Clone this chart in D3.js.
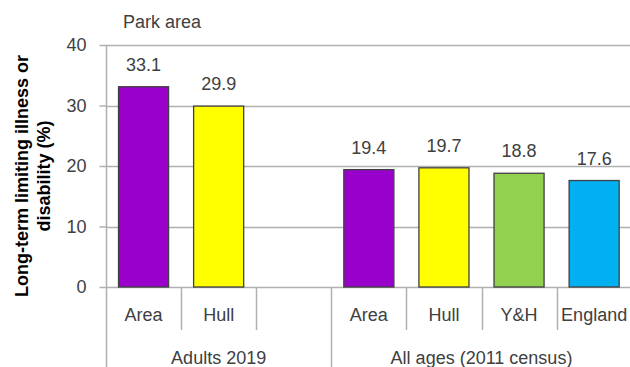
<!DOCTYPE html>
<html>
<head>
<meta charset="utf-8">
<script src="https://cdn.jsdelivr.net/npm/d3@7"></script>
<style>
  html, body { margin: 0; padding: 0; background: #fff; }
  svg { display: block; font-family: "Liberation Sans", Arial, sans-serif; }
</style>
</head>
<body>
<script>
// chart values
const slots = ["s0", "s1", "s2", "s3", "s4", "s5", "s6"];
const categories = ["Area", "Hull", "", "Area", "Hull", "Y&H", "England"];
const values = [33.1, 29.9, null, 19.4, 19.7, 18.8, 17.6];
const barColors = ["#9900cc", "#ffff00", null, "#9900cc", "#ffff00", "#92d050", "#00b0f0"];
const groupLabels = ["Adults 2019", "All ages (2011 census)"];
const groupSpans = [[0, 3], [3, 7]];
const yTicks = [0, 10, 20, 30, 40];

const W = 630, H = 367;
const plotLeft = 106, plotTop = 45, plotBottom = 287;
const plotRight = plotLeft + 7 * 75.1;

const svg = d3.select('body').append('svg')
  .attr('width', W)
  .attr('height', H);

const x = d3.scaleBand().domain(slots).range([plotLeft, plotRight]).padding(0);
const y = d3.scaleLinear().domain([0, 40]).range([plotBottom, plotTop]);

// gridlines
svg.append('g')
  .selectAll('line')
  .data(yTicks)
  .enter()
  .append('line')
  .attr('x1', plotLeft)
  .attr('x2', plotRight)
  .attr('y1', d => Math.round(y(d)) + 0.5)
  .attr('y2', d => Math.round(y(d)) + 0.5)
  .attr('stroke', '#b0b0b0')
  .attr('stroke-width', 1.5);

// y axis
const yAxis = d3.axisLeft(y).tickValues(yTicks).tickSize(7).tickPadding(13);
const yg = svg.append('g')
  .attr('transform', `translate(${plotLeft + 0.5},0)`)
  .call(yAxis);
yg.select('.domain').remove();
yg.selectAll('.tick line').attr('stroke', '#b0b0b0').attr('stroke-width', 1.5);
yg.selectAll('.tick text')
  .attr('fill', '#404040')
  .style('font-size', '18px')
  .style('font-family', '"Liberation Sans", Arial, sans-serif');

// left axis line runs down through the category labels
svg.append('line')
  .attr('x1', plotLeft + 0.5).attr('x2', plotLeft + 0.5)
  .attr('y1', plotTop).attr('y2', H)
  .attr('stroke', '#b0b0b0').attr('stroke-width', 1.5);

// bars
const barW = x.bandwidth() * 2 / 3;
const barData = slots.map((s, i) => ({ slot: s, v: values[i], c: barColors[i] }))
  .filter(d => d.v != null);

svg.append('g')
  .selectAll('rect')
  .data(barData)
  .enter()
  .append('rect')
  .attr('x', d => x(d.slot) + (x.bandwidth() - barW) / 2)
  .attr('y', d => y(d.v))
  .attr('width', barW)
  .attr('height', d => y(0) - y(d.v))
  .attr('fill', d => d.c)
  .attr('stroke', '#404040')
  .attr('stroke-width', 1.3);

// value labels
svg.append('g')
  .selectAll('text')
  .data(barData)
  .enter()
  .append('text')
  .attr('x', d => x(d.slot) + x.bandwidth() / 2)
  .attr('y', d => y(d.v) - 16)
  .attr('text-anchor', 'middle')
  .attr('fill', '#404040')
  .style('font-size', '18px')
  .text(d => d.v.toFixed(1));

// category separators
const sepSlots = d3.range(1, 7).filter(i => !groupSpans.some(g => g[0] === i));
svg.append('g')
  .selectAll('line')
  .data(sepSlots)
  .enter()
  .append('line')
  .attr('x1', i => Math.round(x(slots[i])) + 0.5)
  .attr('x2', i => Math.round(x(slots[i])) + 0.5)
  .attr('y1', plotBottom)
  .attr('y2', 330)
  .attr('stroke', '#b0b0b0')
  .attr('stroke-width', 1.5);

// group separators (long)
svg.append('g')
  .selectAll('line')
  .data(groupSpans.slice(1))
  .enter()
  .append('line')
  .attr('x1', g => Math.round(x(slots[g[0]])) + 0.5)
  .attr('x2', g => Math.round(x(slots[g[0]])) + 0.5)
  .attr('y1', plotBottom)
  .attr('y2', H)
  .attr('stroke', '#b0b0b0')
  .attr('stroke-width', 1.5);

// category labels
svg.append('g')
  .selectAll('text')
  .data(categories)
  .enter()
  .append('text')
  .attr('x', (d, i) => x(slots[i]) + x.bandwidth() / 2)
  .attr('y', 321)
  .attr('text-anchor', 'middle')
  .attr('fill', '#404040')
  .style('font-size', '18px')
  .text(d => d);

// group labels
svg.append('g')
  .selectAll('text')
  .data(groupLabels)
  .enter()
  .append('text')
  .attr('x', (d, i) => {
    const g = groupSpans[i];
    return (x(slots[g[0]]) + x(slots[g[1] - 1]) + x.bandwidth()) / 2;
  })
  .attr('y', 364)
  .attr('text-anchor', 'middle')
  .attr('fill', '#404040')
  .style('font-size', '18px')
  .text(d => d);

// chart title
svg.append('text')
  .attr('x', 123)
  .attr('y', 28)
  .attr('fill', '#404040')
  .style('font-size', '18px')
  .text('Park area');

// y axis title
const yt = svg.append('text')
  .attr('transform', 'translate(0,176) rotate(-90)')
  .attr('text-anchor', 'middle')
  .attr('fill', '#000')
  .style('font-size', '18px')
  .style('font-weight', 'bold');
yt.append('tspan').attr('x', 0).attr('y', 28).text('Long-term limiting illness or');
yt.append('tspan').attr('x', 0).attr('y', 50).text('disability (%)');
</script>
</body>
</html>
